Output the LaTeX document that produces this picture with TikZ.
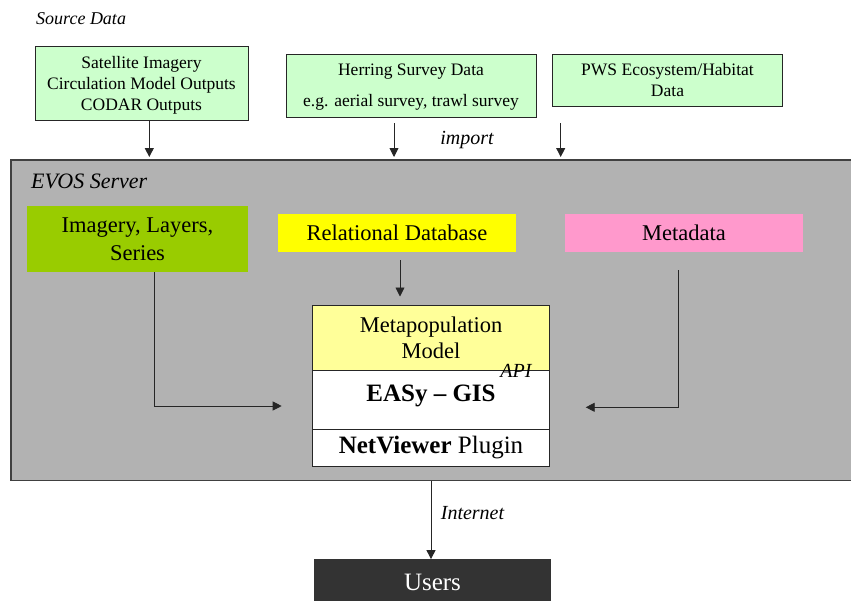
\documentclass[tikz,border=0pt]{standalone}
\usepackage{fontspec}
\setmainfont{Liberation Serif}
\usetikzlibrary{arrows.meta}
\definecolor{srcgreen}{HTML}{CCFFCC}
\definecolor{servgray}{HTML}{B2B2B2}
\definecolor{imggreen}{HTML}{99CC00}
\definecolor{dbyellow}{HTML}{FFFF00}
\definecolor{metapink}{HTML}{FF99CC}
\definecolor{modyellow}{HTML}{FFFF99}
\definecolor{userdark}{HTML}{333333}
\begin{document}
\begin{tikzpicture}[x=1pt,y=-1pt,
  srcbox/.style={draw=black!85,fill=srcgreen,line width=0.9pt,inner sep=0pt,align=center,
    font=\fontsize{17.5}{21}\selectfont},
  flatbox/.style={inner sep=0pt,align=center,font=\fontsize{22.5}{27.5}\selectfont},
  stackbox/.style={draw=black!85,line width=0.9pt,inner sep=0pt,align=center,
    minimum width=236.6pt},
  lbl/.style={font=\fontsize{20}{24}\selectfont\itshape,inner sep=0pt},
  arr/.style={line width=0.9pt,draw=black!85,-{Triangle[length=9pt,width=9pt]}},
  ln/.style={line width=0.9pt,draw=black!85}]
\useasboundingbox (0,0) rectangle (851,600);

% title
\node[lbl,font=\fontsize{18}{22}\selectfont\itshape,anchor=west] (src) at (36,19) {Source Data};

% source boxes
\node[srcbox,minimum width=213pt,minimum height=74pt,text depth=0pt] (b1) at (141.5,83)
  {Satellite Imagery\\Circulation Model Outputs\\CODAR Outputs};
\node[srcbox,minimum width=250pt,minimum height=63.3pt,text depth=-4pt] (b2) at (411,85.7)
  {Herring Survey Data\\[10pt]e.g. aerial survey, trawl survey};
\node[srcbox,minimum width=229.6pt,minimum height=52.7pt,text depth=-2pt] (b3) at (667.5,80.3)
  {PWS Ecosystem/Habitat\\Data};

% server
\node[draw=black!75,fill=servgray,line width=1.1pt,minimum width=860pt,minimum height=320.7pt,
  inner sep=0pt] (server) at (441,320.35) {};
\node[lbl,font=\fontsize{22}{26}\selectfont\itshape,anchor=west] (evos) at (31,181) {EVOS Server};

% import arrows
\coordinate (a1) at (149.3,157);
\coordinate (a2) at (394,157);
\coordinate (a3) at (560.7,157);
\draw[arr] (b1.south -| a1) -- (a1);
\draw[arr] ([yshift=-5.4pt]b2.south -| a2) -- (a2);
\draw[arr] ([yshift=-16pt]b3.south -| a3) -- (a3);
\node[lbl] (imp) at (467,140) {import};

% inner boxes
\node[flatbox,fill=imggreen,minimum width=220.4pt,minimum height=66pt,text depth=0pt] (img) at (137.5,239)
  {Imagery, Layers,\\Series};
\node[flatbox,fill=dbyellow,minimum width=237.4pt,minimum height=38pt] (db) at (397,233)
  {Relational Database};
\node[flatbox,fill=metapink,minimum width=238pt,minimum height=38pt] (meta) at (684,233)
  {Metadata};

% stacked model
\node[stackbox,fill=modyellow,minimum height=65.3pt,font=\fontsize{22.5}{25.7}\selectfont] (model) at (431,337.6)
  {Metapopulation\\Model};
\node[stackbox,fill=white,minimum height=59pt,text depth=13pt,font=\fontsize{25}{30}\selectfont\bfseries] (easy) at (431,399.8)
  {EASy -- GIS};
\node[stackbox,fill=white,minimum height=37.4pt,font=\fontsize{25}{30}\selectfont] (nv) at (431,448)
  {\textbf{NetViewer} Plugin};
\node[lbl] (api) at (516,371) {API};

% inner arrows
\coordinate (d1) at (400,260);
\draw[arr] (d1) -- ([yshift=8pt]model.north -| d1);
\coordinate (l1) at (154.3,406);
\coordinate (l2) at (281.7,406);
\draw[arr] (img.south -| l1) -- (l1) -- (l2);
\coordinate (r0) at (678.3,270);
\coordinate (r1) at (678.3,407.3);
\coordinate (r2) at (585.7,407.3);
\draw[arr] (r0) -- (r1) -- (r2);

% users
\node[fill=userdark,inner sep=0pt,minimum width=237pt,minimum height=51.4pt,text=white,
  text depth=6pt,font=\fontsize{25}{30}\selectfont] (users) at (432.5,585) {Users};
\coordinate (u1) at (431,480.7);
\draw[arr] (u1) -- (users.north -| u1);
\node[lbl] (inet) at (472.5,513.3) {Internet};
\end{tikzpicture}
\end{document}
